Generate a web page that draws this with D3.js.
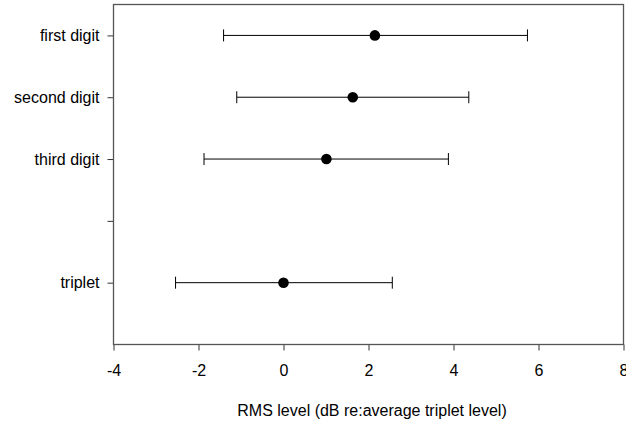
<!DOCTYPE html>
<meta charset="utf-8">
<style>
body { margin: 0; background: #fff; }
text { font-family: "Liberation Sans", Arial, sans-serif; font-size: 16px; fill: #000; }
.frame { fill: none; stroke: #555; stroke-width: 1.3px; }
.err { stroke: #000; stroke-width: 1px; }
</style>
<svg width="626" height="428"></svg>
<script src="https://cdn.jsdelivr.net/npm/d3@7"></script>
<script>
// categories, top to bottom ("" is the empty slot between third digit and triplet)
var categories = ["first digit", "second digit", "third digit", "", "triplet"];
var positions = [5, 4, 3, 2, 1];
var means = [2.15, 1.63, 1.01, null, 0];
var lows = [-1.41, -1.10, -1.87, null, -2.54];
var highs = [5.74, 4.36, 3.88, null, 2.56];
var xTicks = [-4, -2, 0, 2, 4, 6, 8];

var svg = d3.select("svg");
var mLeft = 113.5, mRight = 623.5, mTop = 4.5, mBottom = 344.5;

var x = d3.scaleLinear().domain([-4, 8]).range([mLeft, mRight]);
var y = d3.scaleLinear().domain([0, 5.5]).range([mBottom, mTop]);

// x axis
var xa = svg.append("g").attr("transform", "translate(0," + mBottom + ")")
    .call(d3.axisBottom(x).tickValues(xTicks).tickSize(6).tickPadding(14.5)
      .tickFormat(function(d) { return String(d); }));
// y axis
var ya = svg.append("g").attr("transform", "translate(" + mLeft + ",0)")
    .call(d3.axisLeft(y).tickValues(positions).tickSize(6).tickPadding(8)
      .tickFormat(function(d, i) { return categories[i]; }));

[xa, ya].forEach(function(a) {
  a.select(".domain").remove();
  a.selectAll(".tick line").attr("stroke", "#333");
  a.selectAll("text").attr("font-size", null).attr("font-family", null);
});

svg.append("rect").attr("class", "frame")
    .attr("x", mLeft).attr("y", mTop)
    .attr("width", mRight - mLeft).attr("height", mBottom - mTop);

var rows = categories.map(function(c, i) {
  return {pos: positions[i], mean: means[i], lo: lows[i], hi: highs[i]};
}).filter(function(d) { return d.mean !== null; });

var g = svg.append("g");
var row = g.selectAll("g").data(rows).enter().append("g");

row.append("line").attr("class", "err")
    .attr("x1", d => x(d.lo)).attr("x2", d => x(d.hi))
    .attr("y1", d => y(d.pos)).attr("y2", d => y(d.pos));
row.append("line").attr("class", "err")
    .attr("x1", d => x(d.lo)).attr("x2", d => x(d.lo))
    .attr("y1", d => y(d.pos) - 6).attr("y2", d => y(d.pos) + 6);
row.append("line").attr("class", "err")
    .attr("x1", d => x(d.hi)).attr("x2", d => x(d.hi))
    .attr("y1", d => y(d.pos) - 6).attr("y2", d => y(d.pos) + 6);
row.append("circle")
    .attr("cx", d => x(d.mean)).attr("cy", d => y(d.pos))
    .attr("r", 5.3).attr("fill", "#000");

svg.append("text")
    .attr("x", 372).attr("y", 415.5)
    .attr("text-anchor", "middle")
    .text("RMS level (dB re:average triplet level)");
</script>
